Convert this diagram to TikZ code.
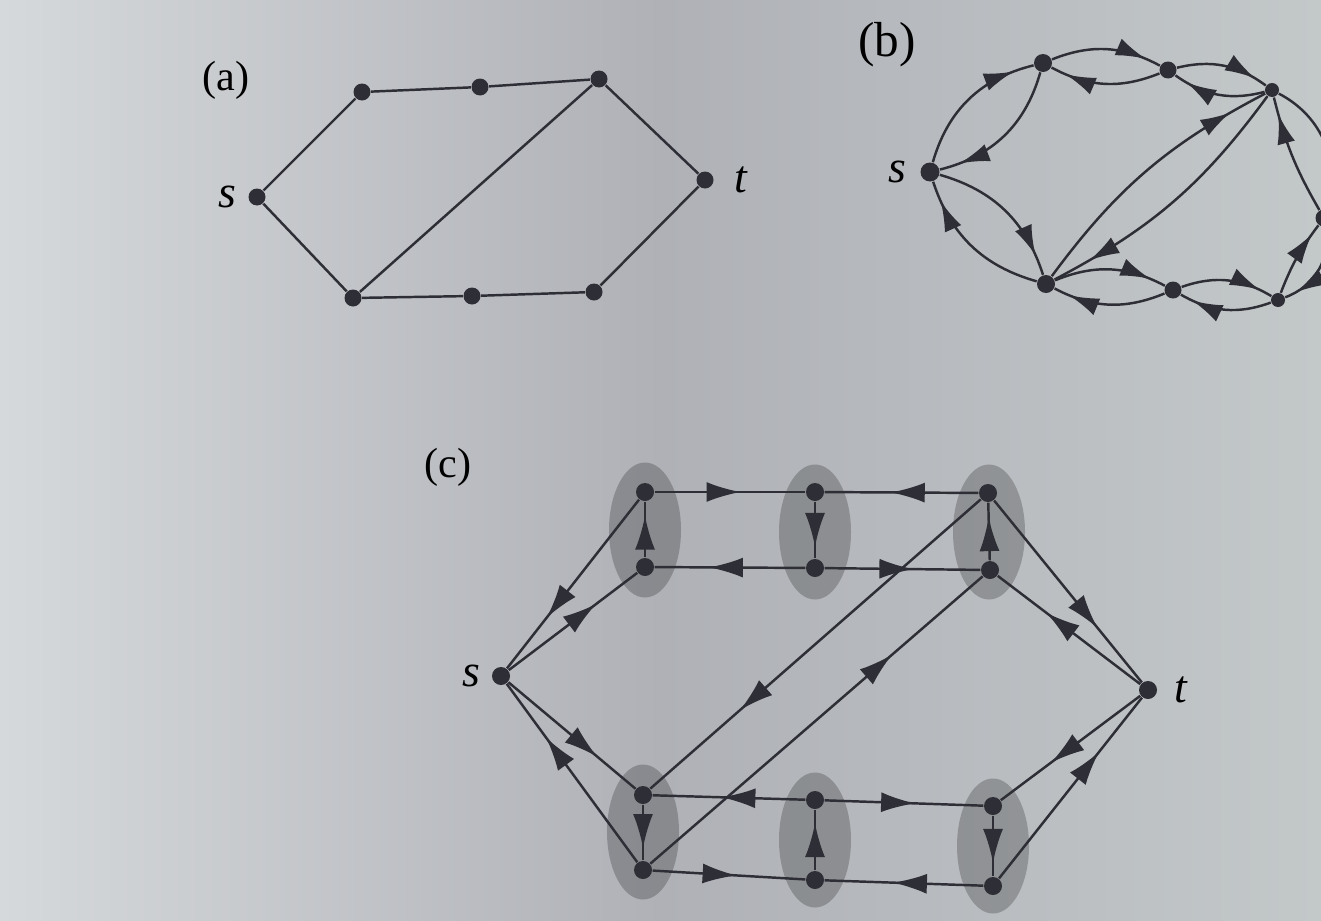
\documentclass[tikz,border=0pt]{standalone}
\usepackage{fontspec}
\setmainfont{Liberation Serif}
\usetikzlibrary{arrows.meta,positioning,shapes.geometric,decorations.markings}
\definecolor{Ink}{HTML}{2E2E36}
\definecolor{PaperL}{HTML}{D6D9DB}
\definecolor{PaperM}{HTML}{AFB1B7}
\definecolor{PaperR}{HTML}{C3C8C9}

\begin{document}
\begin{tikzpicture}[x=0.1mm, y=-0.1mm,
    vtx/.style={circle, fill=Ink, inner sep=0pt, minimum size=1.7mm},
    link/.style={draw=Ink, line width=0.7pt},
    flow/.style={link, postaction={decorate}, decoration={markings, mark=at position #1 with {\arrow{Latex[length=3.4mm,width=2mm]}}}},
    flow/.default=0.57,
    res/.style={link, bend left=#1, postaction={decorate}, decoration={markings, mark=at position 0.86 with {\arrow{Latex[length=3mm,width=1.8mm]}}}},
    res/.default=25,
    blob/.style={ellipse, fill=black, fill opacity=0.22, minimum width=7.2mm, minimum height=13.5mm, inner sep=0pt},
    lab/.style={inner sep=0pt, font=\fontsize{13}{15}\selectfont\itshape},
    tag/.style={inner sep=0pt, font=\fontsize{12}{14}\selectfont}]

  \useasboundingbox (0,0) rectangle (1321,920);
  \clip (0,0) rectangle (1321,920);
  \shade[left color=PaperL, right color=PaperR, middle color=PaperM] (0,0) rectangle (1321,920);

  % (a) the undirected network
  \node[tag] (capa) at (226,80) {(a)};
  \node[vtx] (sa) at (257,197) {};
  \node[vtx] (a1) at (362,92) {};
  \node[vtx] (a2) at (480,87) {};
  \node[vtx] (a3) at (599,79) {};
  \node[vtx] (ta) at (705,180) {};
  \node[vtx] (a4) at (353,298) {};
  \node[vtx] (a5) at (472,296) {};
  \node[vtx] (a6) at (594,292) {};
  \node[lab, left=1.1mm of sa] (sal) {s};
  \node[lab, right=2mm of ta] (tal) {t};
  \draw[link] (sa) -- (a1) -- (a2) -- (a3) -- (ta);
  \draw[link] (sa) -- (a4) -- (a5) -- (a6) -- (ta);
  \draw[link] (a4) -- (a3);

  % (b) both directions for every edge
  \node[tag, font=\fontsize{14}{16}\selectfont] (capb) at (887,45) {(b)};
  \node[vtx, minimum size=1.9mm] (sb) at (930,172) {};
  \node[vtx, minimum size=1.8mm] (b1) at (1043,63) {};
  \node[vtx] (b2) at (1168,70) {};
  \node[vtx, minimum size=1.4mm] (b3) at (1272,90) {};
  \node[vtx] (tb) at (1324,218) {};
  \node[vtx, minimum size=1.8mm] (b4) at (1046,284) {};
  \node[vtx] (b5) at (1173,290) {};
  \node[vtx, minimum size=1.4mm] (b6) at (1278,300) {};
  \node[lab, left=1.3mm of sb] (sbl) {s};
  \draw[res=30] (sb) to (b1);
  \draw[res=30] (b1) to (sb);
  \draw[res=28] (sb) to (b4);
  \draw[res=28] (b4) to (sb);
  \draw[res] (b1) to (b2);
  \draw[res] (b2) to (b1);
  \draw[res] (b2) to (b3);
  \draw[res] (b3) to (b2);
  \draw[res] (b4) to (b5);
  \draw[res] (b5) to (b4);
  \draw[res] (b5) to (b6);
  \draw[res] (b6) to (b5);
  \draw[res=13] (b4) to (b3);
  \draw[res=13] (b3) to (b4);
  \draw[res=40] (b3) to (tb);
  \draw[res=8] (tb) to (b3);
  \draw[res=40] (tb) to (b6);
  \draw[res=8] (b6) to (tb);

  % (c) every inner vertex split in two
  \node[tag] (capc) at (448,467) {(c)};
  \node[blob] (bu1) at (645,530) {};
  \node[blob] (bu2) at (815,532) {};
  \node[blob] (bu3) at (989,532) {};
  \node[blob] (bl1) at (643,832) {};
  \node[blob] (bl2) at (815,840) {};
  \node[blob] (bl3) at (993,846) {};
  \node[vtx, minimum size=1.8mm] (sc) at (501,676) {};
  \node[vtx, minimum size=1.8mm] (tc) at (1148,690) {};
  \node[vtx, minimum size=1.8mm] (u1t) at (645,492) {};
  \node[vtx, minimum size=1.8mm] (u1b) at (645,567) {};
  \node[vtx, minimum size=1.8mm] (u2t) at (815,492) {};
  \node[vtx, minimum size=1.8mm] (u2b) at (815,568) {};
  \node[vtx, minimum size=1.8mm] (u3t) at (988,493) {};
  \node[vtx, minimum size=1.8mm] (u3b) at (990,570) {};
  \node[vtx, minimum size=1.8mm] (l1t) at (643,795) {};
  \node[vtx, minimum size=1.8mm] (l1b) at (643,870) {};
  \node[vtx, minimum size=1.8mm] (l2t) at (815,800) {};
  \node[vtx, minimum size=1.8mm] (l2b) at (815,880) {};
  \node[vtx, minimum size=1.8mm] (l3t) at (993,806) {};
  \node[vtx, minimum size=1.8mm] (l3b) at (993,886) {};
  \node[lab, left=1mm of sc] (scl) {s};
  \node[lab, right=1.6mm of tc] (tcl) {t};
  \draw[flow] (u1t) -- (u2t);
  \draw[flow] (u3t) -- (u2t);
  \draw[flow=0.75] (u1b) -- (u1t);
  \draw[flow=0.8] (u2t) -- (u2b);
  \draw[flow=0.75] (u3b) -- (u3t);
  \draw[flow=0.64] (u2b) -- (u1b);
  \draw[flow] (u2b) -- (u3b);
  \draw[flow=0.7] (u1t) -- (sc);
  \draw[flow=0.68] (sc) -- (u1b);
  \draw[flow=0.7] (u3t) -- (tc);
  \draw[flow=0.66] (tc) -- (u3b);
  \draw[flow=0.73] (u3t) -- (l1t);
  \draw[flow=0.73] (l1b) -- (u3b);
  \draw[flow=0.55] (l2t) -- (l1t);
  \draw[flow] (l2t) -- (l3t);
  \draw[flow=0.78] (l1t) -- (l1b);
  \draw[flow=0.78] (l2b) -- (l2t);
  \draw[flow=0.78] (l3t) -- (l3b);
  \draw[flow=0.55] (l1b) -- (l2b);
  \draw[flow] (l3b) -- (l2b);
  \draw[flow=0.7] (sc) -- (l1t);
  \draw[flow=0.7] (l1b) -- (sc);
  \draw[flow=0.64] (tc) -- (l3t);
  \draw[flow=0.7] (l3b) -- (tc);
\end{tikzpicture}
\end{document}
